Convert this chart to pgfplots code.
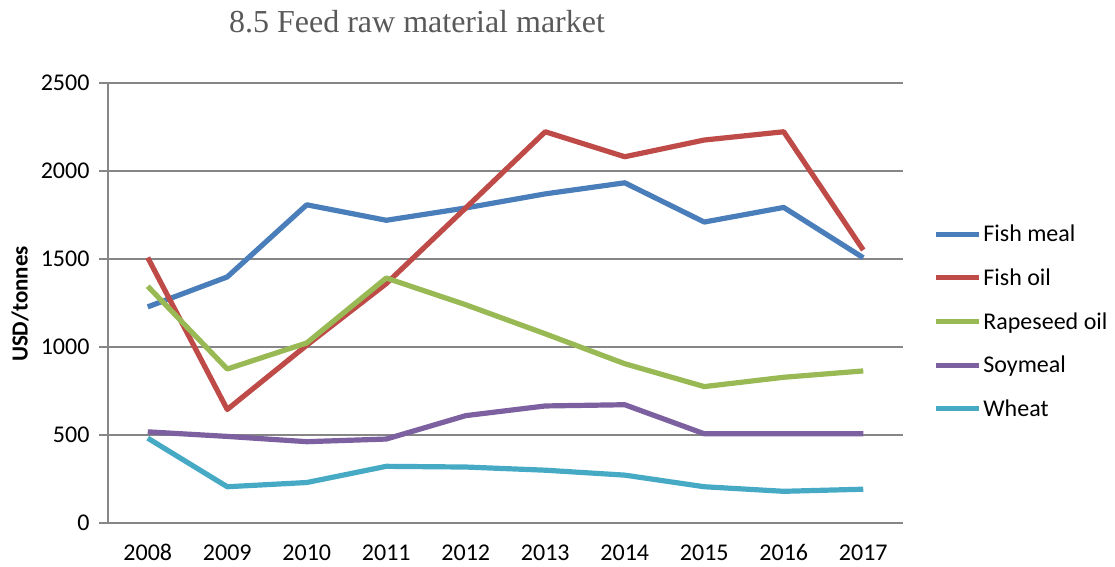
\documentclass[border=0pt]{standalone}
\usepackage{fontspec}
\setmainfont{Carlito}
\newfontfamily\titlefont{Liberation Serif}
\usepackage{pgfplots}
\pgfplotsset{compat=1.18}
\definecolor{cfm}{HTML}{4A7EBB}
\definecolor{cfo}{HTML}{BE4B48}
\definecolor{crs}{HTML}{98B954}
\definecolor{csm}{HTML}{7D60A0}
\definecolor{cwh}{HTML}{46AAC5}
\definecolor{cgrid}{HTML}{868686}
\begin{document}
\begin{tikzpicture}
\useasboundingbox (0,0) rectangle (1115bp,567bp);
\node[font=\titlefont\fontsize{32bp}{36bp}\selectfont, text=black!65] at (417bp,545bp) {8.5 Feed raw material market};
\begin{axis}[
  at={(108bp,44bp)}, anchor=south west,
  width=795bp, height=440bp, scale only axis,
  xmin=-0.5, xmax=9.5, ymin=0, ymax=2500,
  xtick={0,...,9},
  xticklabels={2008,2009,2010,2011,2012,2013,2014,2015,2016,2017},
  major x tick style={draw=none},
  extra x ticks={-0.5,0.5,...,9.5},
  extra x tick labels={},
  extra x tick style={major tick length=7bp, tick align=outside, tick style={draw=cgrid, line width=1.5bp}},
  ytick={0,500,...,2500},
  ymajorgrids,
  grid style={draw=cgrid, line width=1.6bp},
  y tick style={draw=cgrid, line width=1.6bp},
  major tick length=9bp, tick align=outside,
  axis x line*=bottom, axis y line*=left,
  axis line style={draw=cgrid, line width=1.6bp, -},
  tick label style={font=\fontsize{24bp}{28bp}\selectfont, text=black},
  /pgf/number format/assume math mode=true,
  /pgf/number format/set thousands separator={},
  yticklabel style={xshift=-6bp},
  xticklabel style={yshift=-9bp},
  ylabel={\bfseries USD/tonnes},
  every axis y label/.style={at={(rel axis cs:0,0.4977)}, xshift=-88bp, rotate=90, anchor=center,
    font=\fontsize{23bp}{27bp}\selectfont},
  legend style={at={(1.0377,0.458)}, anchor=west, draw=none, fill=none,
    font=\fontsize{24bp}{28bp}\selectfont, row sep=21.5bp, inner sep=0pt},
  legend cell align=left,
  legend image code/.code={\draw[#1] (0bp,0bp) -- (43bp,0bp);},
  every axis plot/.append style={line width=5.2bp, line join=round},
  clip=false,
]
\addplot[cfm] coordinates {(0,1228) (1,1398) (2,1808) (3,1720) (4,1790) (5,1870) (6,1933) (7,1710) (8,1793) (9,1507)};
\addlegendentry{Fish meal}
\addplot[cfo] coordinates {(0,1508) (1,645) (2,1010) (3,1360) (4,1790) (5,2223) (6,2081) (7,2176) (8,2223) (9,1551)};
\addlegendentry{Fish oil}
\addplot[crs] coordinates {(0,1345) (1,875) (2,1023) (3,1392) (4,1240) (5,1075) (6,905) (7,775) (8,828) (9,864)};
\addlegendentry{Rapeseed oil}
\addplot[csm] coordinates {(0,518) (1,492) (2,462) (3,477) (4,610) (5,665) (6,672) (7,507) (8,507) (9,507)};
\addlegendentry{Soymeal}
\addplot[cwh] coordinates {(0,482) (1,206) (2,230) (3,322) (4,318) (5,300) (6,272) (7,206) (8,180) (9,192)};
\addlegendentry{Wheat}
\end{axis}
\end{tikzpicture}
\end{document}
